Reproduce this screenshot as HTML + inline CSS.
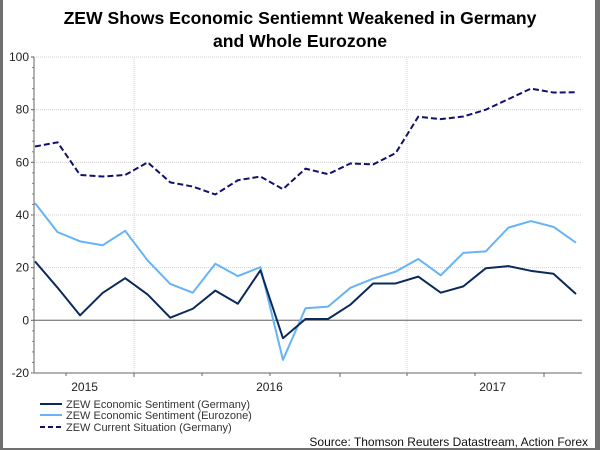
<!DOCTYPE html>
<html><head><meta charset="utf-8"><style>
html,body{margin:0;padding:0;background:#fff;}
svg{display:block;font-family:"Liberation Sans",Arial,sans-serif;}
</style></head><body>
<svg id="chart" width="600" height="450" viewBox="0 0 600 450">
<rect x="0" y="0" width="600" height="450" fill="#fff"/>
<rect x="0" y="0" width="3" height="450" fill="#707070"/>
<rect x="595" y="0" width="5" height="450" fill="#707070"/>
<rect x="0" y="448" width="600" height="2" fill="#707070"/>
<text x="300" y="24" text-anchor="middle" font-size="17.6" font-weight="bold">ZEW Shows Economic Sentiemnt Weakened in Germany</text>
<text x="300" y="47" text-anchor="middle" font-size="17.6" font-weight="bold">and Whole Eurozone</text>
<g id="grid"></g>
<g id="axes"></g>
<g id="series"></g>
<g>
<g><line x1="40" y1="404" x2="62" y2="404" stroke="#0b2a5b" stroke-width="2"/><text x="66" y="408" font-size="11" fill="#333">ZEW Economic Sentiment (Germany)</text></g>
<g><line x1="40" y1="415" x2="62" y2="415" stroke="#66b3f7" stroke-width="2"/><text x="66" y="419" font-size="11" fill="#333">ZEW Economic Sentiment (Eurozone)</text></g>
<g><line x1="40" y1="427" x2="62" y2="427" stroke="#10106e" stroke-width="2" stroke-dasharray="5,3"/><text x="66" y="431" font-size="11" fill="#333">ZEW Current Situation (Germany)</text></g>
</g>
<text x="588" y="446" text-anchor="end" font-size="12" fill="#111">Source: Thomson Reuters Datastream, Action Forex</text>
</svg>
<script>
const germany=[22.4,12.4,1.9,10.4,16,9.8,1,4.4,11.3,6.3,19,-6.8,0.5,0.5,6,14,14,16.6,10.5,12.9,19.8,20.6,18.8,17.7,10];
const eurozone=[44.5,33.5,30,28.5,34,22.7,13.8,10.5,21.5,16.8,20.2,-15,4.6,5.2,12.4,15.8,18.5,23.3,17.1,25.6,26.2,35.2,37.7,35.5,29.5];
const current=[66,67.6,55.2,54.6,55.2,60,52.4,50.8,47.8,53.2,54.6,49.8,57.6,55.5,59.6,59.2,63.5,77.3,76.4,77.4,80,84,88,86.5,86.6];
const yTicks=[100,80,60,40,20,0,-20];
const yearLabels=["2015","2016","2017"];
const yearIdx=[2.2,10.4,20.3];
const NS="http://www.w3.org/2000/svg";
const X0=35,X1=576,Y0=57,Y1=373,L=34,R=582;
function x(i){return X0+(X1-X0)*i/(germany.length-1);}
function y(v){return Y0+(100-v)*(Y1-Y0)/120;}
function mk(t,a,p){const e=document.createElementNS(NS,t);for(const k in a)e.setAttribute(k,a[k]);p.appendChild(e);return e;}
const grid=document.getElementById('grid'),axes=document.getElementById('axes'),ser=document.getElementById('series');
yTicks.forEach(v=>{
  if(v!==0&&v!==-20){const g=mk('line',{x1:L,x2:R,y1:y(v),y2:y(v),stroke:'#d0d0d0','stroke-dasharray':'1,1'},grid);
  
  }
  const t=mk('text',{x:L-5,y:y(v)+4,'text-anchor':'end','font-size':12,fill:'#222'},axes);t.textContent=v;
  
  
  const tk=mk('line',{x1:L-3,x2:L,y1:y(v),y2:y(v),stroke:'#555'},axes);
  
  
});
for(let v=-20;v<100;v+=4){const m=mk('line',{x1:L-2,x2:L,y1:y(v),y2:y(v),stroke:'#888'},axes);

}
[134,407].forEach(px=>{const g=mk('line',{x1:px,x2:px,y1:Y0,y2:Y1,stroke:'#d0d0d0','stroke-dasharray':'1,1'},grid);

});
const zl=mk('line',{x1:L,x2:R,y1:y(0),y2:y(0),stroke:'#888','stroke-width':1.3},axes);


const ya=mk('line',{x1:L,x2:L,y1:Y0,y2:Y1,stroke:'#666'},axes);


const xa=mk('line',{x1:L,x2:R,y1:Y1,y2:Y1,stroke:'#666'},axes);


[66,134,202,270,340,407,475,544].forEach((px,k)=>{const t=mk('line',{x1:px,x2:px,y1:Y1,y2:Y1+(k%3===1?4:3),stroke:'#666'},axes);

});
yearLabels.forEach((s,k)=>{const t=mk('text',{x:x(yearIdx[k]),y:391,'text-anchor':'middle','font-size':12,fill:'#222'},axes);t.textContent=s;

});
function line(d,col,dash,name){const p=mk('polyline',{points:d.map((v,i)=>x(i)+','+y(v)).join(' '),fill:'none',stroke:col,'stroke-width':2,'stroke-linejoin':'round'},ser);
if(dash)p.setAttribute('stroke-dasharray',dash);

}
line(eurozone,'#66b3f7',null,'eurozone-sentiment-line');
line(germany,'#0b2a5b',null,'germany-sentiment-line');
line(current,'#10106e','6,3','current-situation-line');
</script>
</body></html>
